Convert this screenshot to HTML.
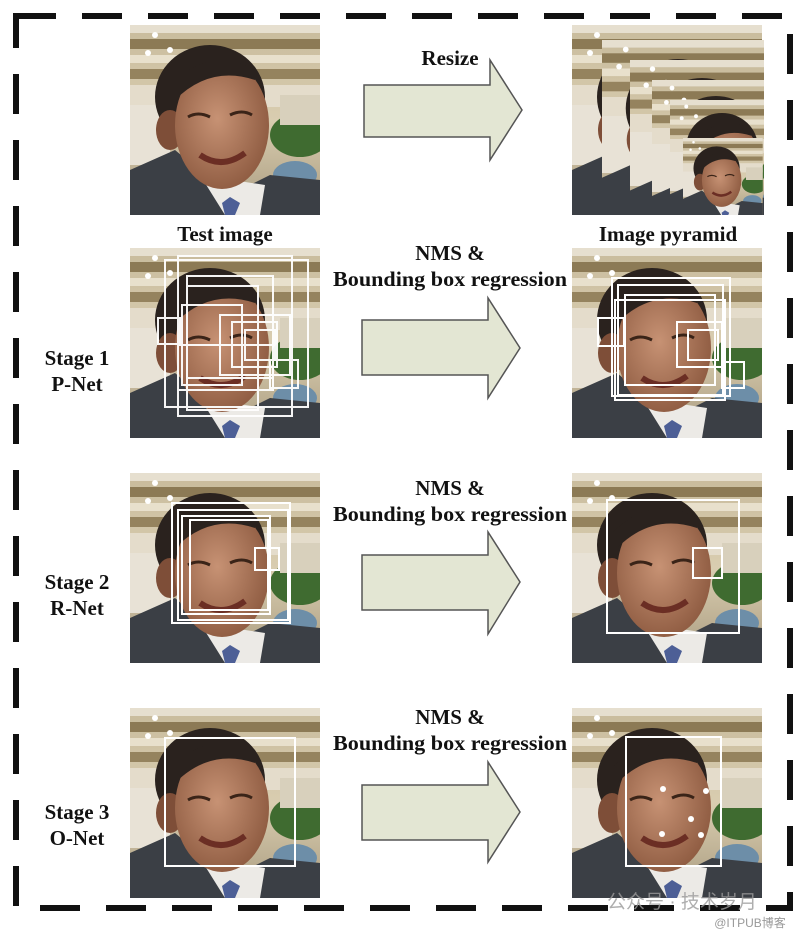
<!DOCTYPE html>
<html><head><meta charset="utf-8"><style>
html,body{margin:0;padding:0;background:#fff;}
svg{display:block;}
text{font-family:"Liberation Serif",serif;font-weight:bold;fill:#111;text-anchor:middle;}
</style></head><body>
<svg width="806" height="936" viewBox="0 0 806 936" xmlns="http://www.w3.org/2000/svg">
<defs>
<linearGradient id="bg" x1="0" y1="0" x2="0" y2="1">
<stop offset="0" stop-color="#c8bb9c"/><stop offset="0.5" stop-color="#d9cdb0"/><stop offset="1" stop-color="#a89a7e"/>
</linearGradient>
<radialGradient id="skin" cx="0.45" cy="0.45" r="0.6">
<stop offset="0" stop-color="#c79274"/><stop offset="1" stop-color="#8d5a40"/>
</radialGradient>
<clipPath id="c"><rect width="190" height="190"/></clipPath>
<g id="face">
<g clip-path="url(#c)">
<rect width="190" height="190" fill="url(#bg)"/>
<rect y="0" width="190" height="8" fill="#e6dfcf"/>
<rect y="14" width="190" height="10" fill="#8c7a55"/>
<rect y="30" width="190" height="8" fill="#e8e0cc"/>
<rect y="44" width="190" height="10" fill="#95835e"/>
<rect y="60" width="190" height="22" fill="#e4dccb"/>
<circle cx="25" cy="10" r="3" fill="#fff"/><circle cx="40" cy="25" r="3" fill="#fff"/><circle cx="18" cy="28" r="3" fill="#fff"/>
<rect x="0" y="80" width="40" height="60" fill="#e8e2d6"/>
<ellipse cx="170" cy="110" rx="30" ry="22" fill="#3f6b30"/>
<ellipse cx="165" cy="150" rx="22" ry="14" fill="#6d8ea8"/>
<rect x="150" y="70" width="40" height="30" fill="#d8d0bc"/>
<path d="M0 145 L45 125 L75 150 L110 165 L140 150 L190 155 L190 190 L0 190Z" fill="#3b3f45"/>
<path d="M70 150 L95 190 L130 190 L135 160 Z" fill="#eceae6"/>
<path d="M92 178 L100 172 L110 178 L105 190 L95 190Z" fill="#4d5f96"/>
<ellipse cx="80" cy="72" rx="55" ry="52" fill="#2a221e"/>
<ellipse cx="40" cy="105" rx="14" ry="20" fill="#7e4e38"/>
<ellipse cx="92" cy="100" rx="47" ry="64" fill="url(#skin)"/>
<path d="M40 60 Q80 20 125 45 L125 55 Q80 40 45 75Z" fill="#2a221e"/>
<path d="M58 92 Q68 86 80 92" stroke="#3a2418" stroke-width="3" fill="none"/>
<path d="M100 90 Q112 84 122 90" stroke="#3a2418" stroke-width="3" fill="none"/>
<path d="M70 130 Q92 145 115 128" stroke="#6b2e24" stroke-width="6" fill="none"/>
</g>
</g>
<clipPath id="pc"><rect x="572" y="25" width="192" height="190"/></clipPath>
</defs>

<rect x="16" y="16" width="774" height="892" fill="none" stroke="#111" stroke-width="6" stroke-dasharray="40 26"/>

<!-- row 1 -->
<use href="#face" x="130" y="25"/>
<g clip-path="url(#pc)">
<use href="#face" x="572" y="25"/>
<use href="#face" transform="translate(602,40) scale(0.95)"/>
<use href="#face" transform="translate(630,60) scale(0.9)"/>
<use href="#face" transform="translate(652,80) scale(0.8)"/>
<use href="#face" transform="translate(670,100) scale(0.65)"/>
<use href="#face" transform="translate(683,138) scale(0.42)"/>
</g>
<text x="450" y="65" font-size="21">Resize</text>
<text x="225" y="241" font-size="21">Test image</text>
<text x="668" y="241" font-size="21">Image pyramid</text>

<!-- arrows -->
<g fill="#e3e6d3" stroke="#555" stroke-width="1.5">
<path d="M364 85 L490 85 L490 60 L522 110 L490 160 L490 137 L364 137Z"/>
<path d="M362 320 L488 320 L488 298 L520 348 L488 398 L488 375 L362 375Z"/>
<path d="M362 555 L488 555 L488 532 L520 582 L488 634 L488 610 L362 610Z"/>
<path d="M362 785 L488 785 L488 762 L520 812 L488 862 L488 840 L362 840Z"/>
</g>

<g font-size="21">
<text x="450" y="260">NMS &amp;</text>
<text x="450" y="286" textLength="234" lengthAdjust="spacingAndGlyphs">Bounding box regression</text>
<text x="450" y="495">NMS &amp;</text>
<text x="450" y="521" textLength="234" lengthAdjust="spacingAndGlyphs">Bounding box regression</text>
<text x="450" y="724">NMS &amp;</text>
<text x="450" y="750" textLength="234" lengthAdjust="spacingAndGlyphs">Bounding box regression</text>

<text x="77" y="365">Stage 1</text>
<text x="77" y="391">P-Net</text>
<text x="77" y="589">Stage 2</text>
<text x="77" y="615">R-Net</text>
<text x="77" y="819">Stage 3</text>
<text x="77" y="845">O-Net</text>
</g>

<!-- row 2 -->
<use href="#face" x="130" y="248"/>
<g fill="none" stroke="#fff" stroke-width="2" opacity="0.95">
<rect x="165" y="260" width="143" height="147"/>
<rect x="178" y="256" width="114" height="160"/>
<rect x="187" y="276" width="86" height="102"/>
<rect x="187" y="286" width="71" height="124"/>
<rect x="182" y="305" width="60" height="80"/>
<rect x="220" y="315" width="70" height="60"/>
<rect x="232" y="322" width="45" height="45"/>
<rect x="245" y="330" width="30" height="30"/>
<rect x="158" y="318" width="22" height="26"/>
<rect x="270" y="360" width="28" height="28"/>
<rect x="178" y="345" width="95" height="45"/>
</g>
<use href="#face" x="572" y="248"/>
<g fill="none" stroke="#fff" stroke-width="2">
<rect x="612" y="278" width="118" height="118"/>
<rect x="618" y="285" width="105" height="110"/>
<rect x="625" y="295" width="90" height="90"/>
<rect x="598" y="318" width="26" height="28"/>
<rect x="677" y="322" width="45" height="45"/>
<rect x="688" y="330" width="30" height="30"/>
<rect x="722" y="362" width="22" height="26"/>
<rect x="615" y="300" width="110" height="100"/>
</g>

<!-- row 3 -->
<use href="#face" x="130" y="473"/>
<g fill="none" stroke="#fff" stroke-width="2">
<rect x="172" y="503" width="118" height="120"/>
<rect x="178" y="510" width="110" height="110"/>
<rect x="182" y="516" width="88" height="98"/>
<rect x="190" y="520" width="78" height="90"/>
<rect x="255" y="548" width="24" height="22"/>
</g>
<use href="#face" x="572" y="473"/>
<g fill="none" stroke="#fff" stroke-width="2">
<rect x="607" y="500" width="132" height="133"/>
<rect x="693" y="548" width="29" height="30"/>
</g>

<!-- row 4 -->
<use href="#face" x="130" y="708"/>
<rect x="165" y="738" width="130" height="128" fill="none" stroke="#fff" stroke-width="2"/>
<use href="#face" x="572" y="708"/>
<rect x="626" y="737" width="95" height="129" fill="none" stroke="#fff" stroke-width="2"/>
<g fill="#fff"><circle cx="663" cy="789" r="3"/><circle cx="706" cy="791" r="3"/><circle cx="691" cy="819" r="3"/><circle cx="662" cy="834" r="3"/><circle cx="701" cy="835" r="3"/></g>

<text x="682" y="908" font-size="19" style="font-family:'Liberation Sans','Noto Sans CJK SC',sans-serif;font-weight:normal;fill:#9a9a9a;opacity:0.8">公众号 · 技术岁月</text>
<text x="750" y="927" font-size="12" style="font-family:'Liberation Sans','Noto Sans CJK SC',sans-serif;font-weight:normal;fill:#999">@ITPUB博客</text>
</svg>
</body></html>
